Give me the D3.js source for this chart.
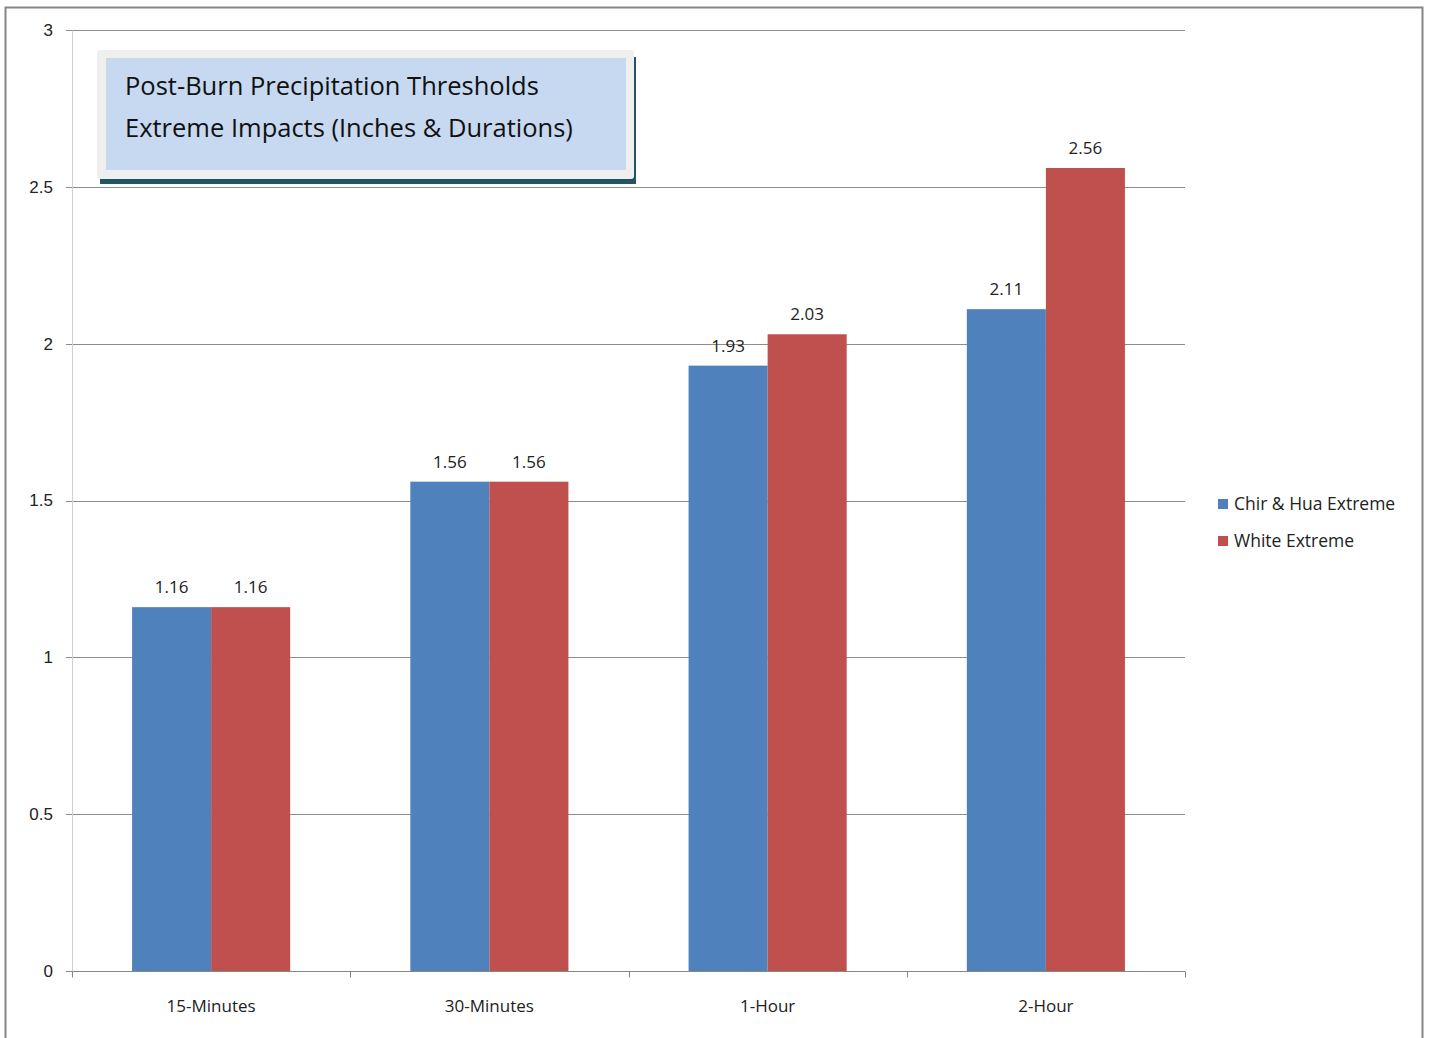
<!DOCTYPE html>
<html>
<head>
<meta charset="utf-8">
<script src="https://cdn.jsdelivr.net/npm/d3@7"></script>
<style>
  body { margin: 0; background: #fff; }
  svg { display: block; font-family: "Open Sans", Lato, sans-serif; }
</style>
</head>
<body>
<div id="chart"></div>
<script>
// Data kategori dan nilai
var categories = ["15-Minutes", "30-Minutes", "1-Hour", "2-Hour"];
var seriesNames = ["Chir & Hua Extreme", "White Extreme"];
var chirHua = [1.16, 1.56, 1.93, 2.11];
var white = [1.16, 1.56, 2.03, 2.56];
var yTicks = [0, 0.5, 1, 1.5, 2, 2.5, 3];
var titleLines = ["Post-Burn Precipitation Thresholds", "Extreme Impacts (Inches & Durations)"];
var colors = ["#4F81BD", "#C0504D"];

var width = 1432, height = 1038;
var margin = { top: 30, right: 247, bottom: 67, left: 72 };

var svg = d3.select("#chart").append("svg")
    .attr("width", width)
    .attr("height", height);

// Bingkai luar
svg.append("path")
    .attr("d", "M5.5,1038 L5.5,7.5 L1422.5,7.5 L1422.5,1038")
    .attr("fill", "none")
    .attr("stroke", "#868686")
    .attr("stroke-width", 2);

var x = d3.scaleBand()
    .domain(categories)
    .range([margin.left, width - margin.right]);

var y = d3.scaleLinear()
    .domain([0, 3])
    .range([height - margin.bottom, margin.top]);

var x1 = d3.scaleBand()
    .domain(seriesNames)
    .range([0, x.bandwidth()])
    .paddingOuter(0.76)
    .paddingInner(0);

// Garis grid
svg.append("g")
    .selectAll("line")
    .data(yTicks)
    .enter().append("line")
    .attr("x1", margin.left - 6)
    .attr("x2", width - margin.right)
    .attr("y1", function(d) { return Math.round(y(d)) + 0.5; })
    .attr("y2", function(d) { return Math.round(y(d)) + 0.5; })
    .attr("stroke", function(d) { return d === 0 ? "#868686" : "#8c8c8c"; })
    .attr("stroke-width", 1);

// Sumbu Y
var yAxis = svg.append("g")
    .attr("transform", "translate(" + margin.left + ",0)")
    .call(d3.axisLeft(y).tickValues(yTicks).tickSize(0).tickPadding(19).tickFormat(d3.format("")));
yAxis.select(".domain").attr("stroke", "#d0d0d0");
yAxis.selectAll("text").style("font-size", "17px").attr("fill", "#222");

// Sumbu X
var xAxis = svg.append("g")
    .attr("transform", "translate(0," + (Math.round(y(0)) + 0.5) + ")");
xAxis.selectAll("line")
    .data(d3.range(categories.length + 1))
    .enter().append("line")
    .attr("x1", function(i) { return Math.round(margin.left + i * x.step()) + 0.5; })
    .attr("x2", function(i) { return Math.round(margin.left + i * x.step()) + 0.5; })
    .attr("y1", 0)
    .attr("y2", 6)
    .attr("stroke", "#868686");
xAxis.selectAll("text")
    .data(categories)
    .enter().append("text")
    .attr("x", function(d) { return x(d) + x.bandwidth() / 2; })
    .attr("y", 40)
    .attr("text-anchor", "middle")
    .style("font-size", "17px")
    .attr("fill", "#222")
    .text(function(d) { return d; });

// Batang
var rows = categories.map(function(c, i) {
    return { category: c, values: [chirHua[i], white[i]] };
});

var groups = svg.selectAll(".grp")
    .data(rows)
    .enter().append("g")
    .attr("transform", function(d) { return "translate(" + x(d.category) + ",0)"; });

groups.selectAll("rect")
    .data(function(d) { return d.values.map(function(v, j) { return { name: seriesNames[j], value: v, idx: j }; }); })
    .enter().append("rect")
    .attr("x", function(d) { return x1(d.name); })
    .attr("y", function(d) { return y(d.value); })
    .attr("width", x1.bandwidth())
    .attr("height", function(d) { return y(0) - y(d.value); })
    .attr("fill", function(d) { return colors[d.idx]; });

groups.selectAll("text")
    .data(function(d) { return d.values.map(function(v, j) { return { name: seriesNames[j], value: v }; }); })
    .enter().append("text")
    .attr("x", function(d) { return x1(d.name) + x1.bandwidth() / 2; })
    .attr("y", function(d) { return y(d.value) - 14; })
    .attr("text-anchor", "middle")
    .style("font-size", "17px")
    .attr("fill", "#222")
    .text(function(d) { return d.value.toFixed(2); });

// Kotak judul
var tb = svg.append("g");
tb.append("rect")
    .attr("x", 100).attr("y", 57).attr("width", 536).attr("height", 127)
    .attr("fill", "#1f5660");
tb.append("rect")
    .attr("x", 97).attr("y", 50).attr("width", 537).attr("height", 129)
    .attr("rx", 3)
    .attr("fill", "#efefef");
tb.append("rect")
    .attr("x", 106).attr("y", 58).attr("width", 520).attr("height", 112)
    .attr("fill", "#c6d9f0");
tb.selectAll("text")
    .data(titleLines)
    .enter().append("text")
    .attr("x", 125)
    .attr("y", function(d, i) { return 95 + i * 42; })
    .style("font-size", "25.5px")
    .attr("fill", "#111")
    .text(function(d) { return d; });

// Legenda
var legend = svg.append("g");
seriesNames.forEach(function(name, i) {
    legend.append("rect")
        .attr("x", 1218).attr("y", 499 + i * 37)
        .attr("width", 10).attr("height", 10)
        .attr("fill", colors[i]);
    legend.append("text")
        .attr("x", 1234).attr("y", 510 + i * 37)
        .style("font-size", "17.5px")
        .attr("fill", "#222")
        .text(name);
});
</script>
</body>
</html>
